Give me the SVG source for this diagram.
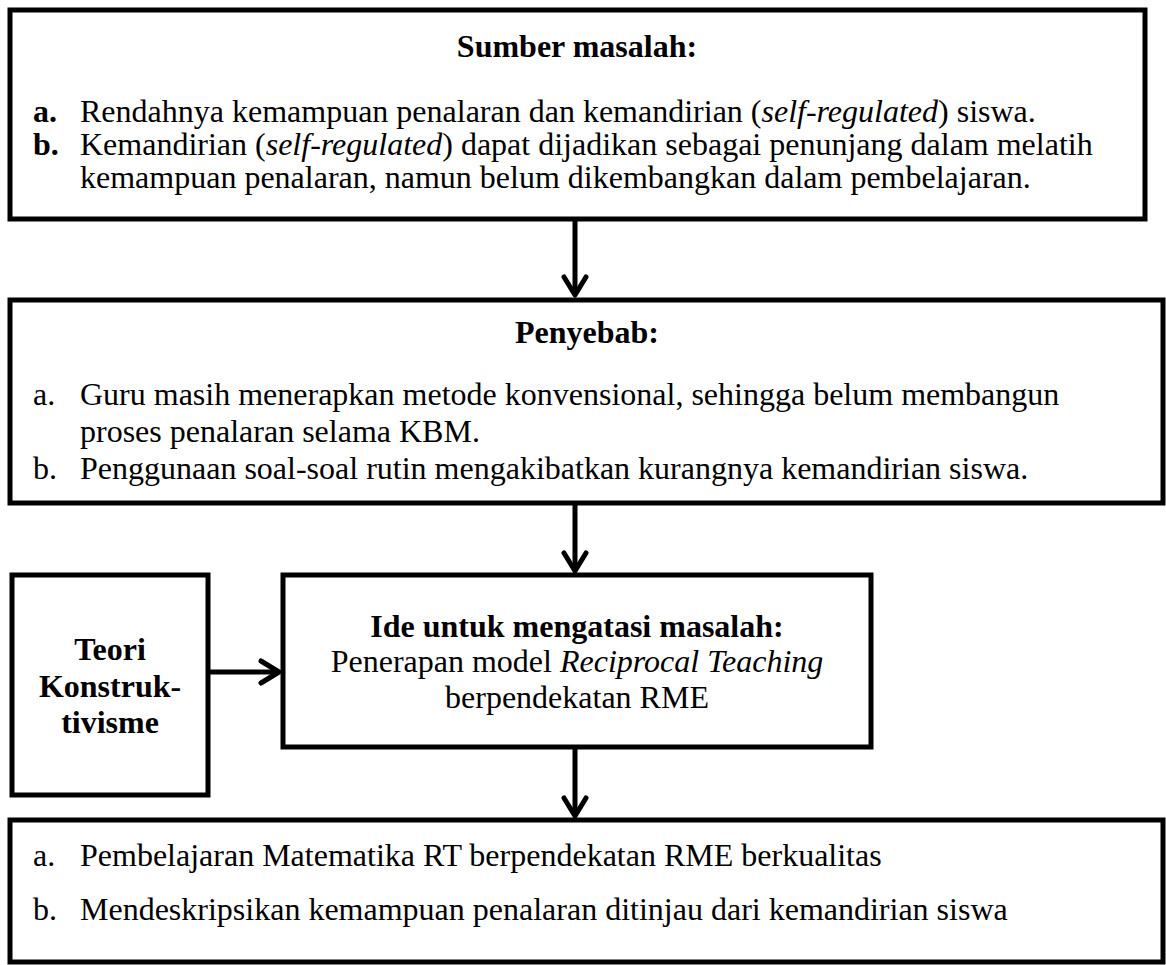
<svg xmlns="http://www.w3.org/2000/svg" width="1166" height="965" viewBox="0 0 1166 965">
<defs>
<style>
.box{fill:#fff;stroke:#000;stroke-width:5}
.t{font-family:"Liberation Serif","Times New Roman",serif;font-size:32px;fill:#000}
.b{font-weight:bold}
.i{font-style:italic}
.c{text-anchor:middle}
.ln{stroke:#000;stroke-width:5;fill:none}
</style>
<marker id="ah" viewBox="0 0 24 28" refX="21" refY="14" markerWidth="24" markerHeight="28" markerUnits="userSpaceOnUse" orient="auto">
<path d="M3,3 L21,14 L3,25" fill="none" stroke="#000" stroke-width="5" stroke-linecap="round" stroke-linejoin="round"/>
</marker>
</defs>
<rect width="1166" height="965" fill="#fff"/>
<g id="connectors">
<line class="ln" x1="575" y1="221" x2="575" y2="295" marker-end="url(#ah)"/>
<line class="ln" x1="575" y1="505" x2="575" y2="571" marker-end="url(#ah)"/>
<line class="ln" x1="210" y1="672" x2="279" y2="672" marker-end="url(#ah)"/>
<line class="ln" x1="575" y1="749" x2="575" y2="816" marker-end="url(#ah)"/>
</g>
<g id="sumber">
<rect class="box" x="10" y="10" width="1135" height="209"/>
<text class="t b c" x="577" y="57">Sumber masalah:</text>
<text class="t b" x="33" y="122">a.</text>
<text class="t" x="80" y="122">Rendahnya kemampuan penalaran dan kemandirian (<tspan class="i">self-regulated</tspan>) siswa.</text>
<text class="t b" x="33" y="155">b.</text>
<text class="t" x="80" y="155">Kemandirian (<tspan class="i">self-regulated</tspan>) dapat dijadikan sebagai penunjang dalam melatih</text>
<text class="t" x="80" y="188">kemampuan penalaran, namun belum dikembangkan dalam pembelajaran.</text>
</g>
<g id="penyebab">
<rect class="box" x="10" y="300" width="1153" height="203"/>
<text class="t b c" x="587" y="343">Penyebab:</text>
<text class="t" x="33" y="405">a.</text>
<text class="t" x="80" y="405">Guru masih menerapkan metode konvensional, sehingga belum membangun</text>
<text class="t" x="80" y="442">proses penalaran selama KBM.</text>
<text class="t" x="33" y="479">b.</text>
<text class="t" x="80" y="479">Penggunaan soal-soal rutin mengakibatkan kurangnya kemandirian siswa.</text>
</g>
<g id="teori">
<rect class="box" x="12" y="575" width="196" height="220"/>
<text class="t b c" x="110" y="660">Teori</text>
<text class="t b c" x="110" y="697">Konstruk-</text>
<text class="t b c" x="110" y="733">tivisme</text>
</g>
<g id="ide">
<rect class="box" x="283" y="575" width="588" height="172"/>
<text class="t b c" x="577" y="637">Ide untuk mengatasi masalah:</text>
<text class="t c" x="577" y="672">Penerapan model <tspan class="i">Reciprocal Teaching</tspan></text>
<text class="t c" x="577" y="708">berpendekatan RME</text>
</g>
<g id="hasil">
<rect class="box" x="10" y="820" width="1153" height="142"/>
<text class="t" x="33" y="866">a.</text>
<text class="t" x="80" y="866">Pembelajaran Matematika RT berpendekatan RME berkualitas</text>
<text class="t" x="33" y="920">b.</text>
<text class="t" x="80" y="920">Mendeskripsikan kemampuan penalaran ditinjau dari kemandirian siswa</text>
</g>
</svg>
